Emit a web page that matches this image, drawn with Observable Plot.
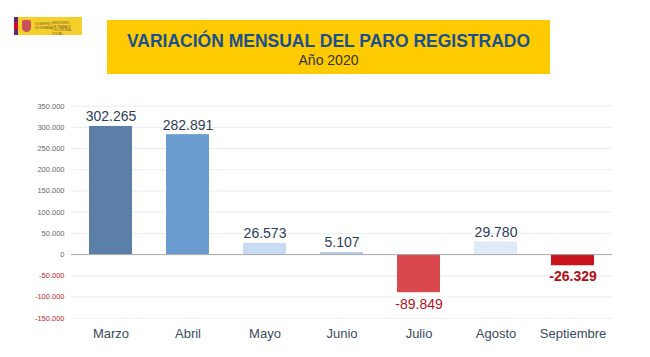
<!DOCTYPE html>
<html>
<head>
<meta charset="utf-8">
<script src="https://cdn.jsdelivr.net/npm/d3@7"></script>
<script src="https://cdn.jsdelivr.net/npm/@observablehq/plot@0.6"></script>
<style>
  html, body { margin: 0; padding: 0; background: #fff; }
  body { width: 650px; height: 357px; overflow: hidden; font-family: "Liberation Sans", Arial, sans-serif; }
  #header { position: relative; width: 650px; height: 90px; }
  #logo { position: absolute; left: 14px; top: 17px; width: 68px; height: 18px; background: #f7cf2a; }
  #logo .stripe { position: absolute; left: 0; top: 0; width: 4px; height: 18px; background: linear-gradient(#5a2a82 0 25%, #c8102e 25% 75%, #5a2a82 75%); }
  #logo .crest { position: absolute; left: 8px; top: 3px; width: 9px; height: 12px; background: #c8525a; border-radius: 2px 2px 5px 5px; }
  #logo .t { position: absolute; font-size: 3px; line-height: 3.5px; color: #6b5a30; }
  #banner { position: absolute; left: 107px; top: 20px; width: 443px; height: 54px; background: #fdcb00; text-align: center; }
  #banner h1 { margin: 0; padding-top: 11px; font-size: 17.5px; line-height: 20px; font-weight: bold; color: #1c4f8f; }
  #banner h2 { margin: 0; font-size: 14px; line-height: 18px; font-weight: normal; color: #333; }
</style>
</head>
<body>
<div id="header">
  <div id="logo"><div class="stripe"></div><div class="crest"></div>
    <div class="t" style="left:21px;top:6px">GOBIERNO<br>DE ESPAÑA</div>
    <div class="t" style="left:38px;top:5px">MINISTERIO<br>DE TRABAJO<br>Y ECONOMÍA SOCIAL</div>
  </div>
  <div id="banner">
    <h1>VARIACIÓN MENSUAL DEL PARO REGISTRADO</h1>
    <h2>Año 2020</h2>
  </div>
</div>
<div id="chart"></div>
<script>
const months = ["Marzo", "Abril", "Mayo", "Junio", "Julio", "Agosto", "Septiembre"];
const values = [302265, 282891, 26573, 5107, -89849, 29780, -26329];
const yTicks = [350000, 300000, 250000, 200000, 150000, 100000, 50000, 0, -50000, -100000, -150000];

const data = months.map((m, i) => ({month: m, value: values[i]}));
const fmt = d3.formatLocale({decimal: ",", thousands: ".", grouping: [3], minus: "-"}).format(",d");

const barPalette = ["#5b7fa6", "#6a9cd0", "#c7dcf2", "#b7cbe5", "#d9484c", "#dfeaf7", "#c8141c"];

const chart = Plot.plot({
  width: 650,
  height: 267,
  marginLeft: 71,
  marginRight: 38,
  marginTop: 15.7,
  marginBottom: 39.3,
  style: {fontFamily: "'Liberation Sans', Arial, sans-serif", background: "transparent"},
  x: {domain: months, paddingInner: 0.44, paddingOuter: 0.22, label: null},
  y: {domain: [-150000, 350000], axis: null},
  color: {domain: months, range: barPalette},
  marks: [
    Plot.ruleY(yTicks, {stroke: "#ececec", strokeWidth: 1}),
    Plot.text(yTicks, {
      y: d => d, frameAnchor: "left", dx: -7, textAnchor: "end",
      text: d => fmt(d), fontSize: 7.5,
      fill: d => d < 0 ? "#c0262c" : "#666"
    }),
    Plot.barY(data, {x: "month", y: "value", fill: "month"}),
    Plot.ruleY([0], {stroke: "#a8a8a8", strokeWidth: 1}),
    Plot.text(data.filter(d => d.value >= 0), {
      x: "month", y: "value", text: d => fmt(d.value),
      lineAnchor: "bottom", dy: -5, fontSize: 14, fill: "#2e4057"
    }),
    Plot.text(data.filter(d => d.value < 0 && d.month !== "Septiembre"), {
      x: "month", y: "value", text: d => fmt(d.value),
      lineAnchor: "top", dy: 6, fontSize: 14, fill: "#b5121b"
    }),
    Plot.text(data.filter(d => d.month === "Septiembre"), {
      x: "month", y: "value", text: d => fmt(d.value),
      lineAnchor: "top", dy: 5, fontSize: 14, fontWeight: "bold", fill: "#b30d16"
    }),
    Plot.axisX({tickSize: 0, tickPadding: 11, fontSize: 13, color: "#3a4a5e", label: null})
  ]
});
document.getElementById("chart").appendChild(chart);
</script>
</body>
</html>
